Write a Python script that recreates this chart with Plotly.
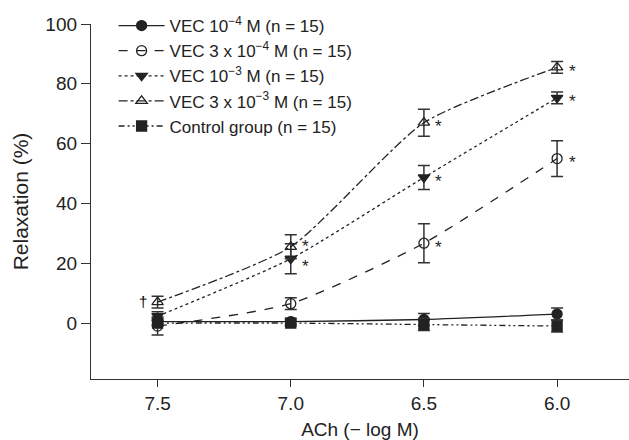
import plotly.graph_objects as go

x_vals = [7.5, 7.0, 6.5, 6.0]

vec_1e4 = [0.5, 0.5, 1.2, 3.0]
vec_1e4_err = [1.0, 1.0, 2.0, 2.0]

vec_3e4 = [-1.0, 6.5, 26.7, 55.0]
vec_3e4_err = [3.0, 2.0, 6.5, 6.0]

vec_1e3 = [2.3, 21.5, 48.7, 75.3]
vec_1e3_err = [1.5, 5.0, 4.0, 2.0]

vec_3e3 = [7.0, 25.5, 67.0, 85.5]
vec_3e3_err = [2.0, 4.0, 4.5, 2.0]

control = [0.0, 0.0, -0.5, -1.0]
control_err = [1.0, 1.0, 2.0, 2.0]

names = [
    "VEC 10<sup>−4</sup> M (n = 15)",
    "VEC 3 x 10<sup>−4</sup> M (n = 15)",
    "VEC 10<sup>−3</sup> M (n = 15)",
    "VEC 3 x 10<sup>−3</sup> M (n = 15)",
    "Control group (n = 15)",
]

series = [
    (vec_1e4, vec_1e4_err, "solid", "circle"),
    (vec_3e4, vec_3e4_err, "dash", "circle-open"),
    (vec_1e3, vec_1e3_err, "dot", "triangle-down"),
    (vec_3e3, vec_3e3_err, "dashdot", "triangle-up-open"),
    (control, control_err, "6px,3px,2px,3px,2px,3px", "square"),
]

FONT = "Liberation Sans, Arial"
INK = "#222"

fig = go.Figure()
for name, (vals, errs, dash, sym) in zip(names, series):
    fig.add_trace(go.Scatter(
        x=x_vals, y=vals, name=name, mode="lines+markers",
        line=dict(color=INK, width=1.3, dash=dash, shape="spline", smoothing=0.6),
        marker=dict(symbol=sym, size=10, color=INK, line=dict(color=INK, width=1.3)),
        error_y=dict(type="data", array=errs, visible=True, color="#333",
                     thickness=1.5, width=6),
    ))

stars = [
    (6.0, vec_3e3[3], -4), (6.0, vec_1e3[3], -4), (6.0, vec_3e4[3], -4),
    (6.5, vec_3e3[2], -4), (6.5, vec_1e3[2], -4), (6.5, vec_3e4[2], -4),
    (7.0, vec_3e3[1], 0), (7.0, vec_1e3[1], -8),
]
for sx, sy, ys in stars:
    fig.add_annotation(x=sx, y=sy, text="*", showarrow=False, xshift=15, yshift=ys,
                       font=dict(size=17, color=INK, family=FONT))
fig.add_annotation(x=7.5, y=vec_3e3[0], text="†", showarrow=False, xshift=-15, yshift=1,
                   font=dict(size=15, color="#000000", family=FONT))

fig.update_layout(
    width=629, height=440,
    margin=dict(l=91, r=0, t=24, b=61),
    paper_bgcolor="white", plot_bgcolor="white",
    font=dict(family=FONT, size=18, color=INK),
    showlegend=True,
    legend=dict(x=0.042, y=1.045, xanchor="left", yanchor="top", itemwidth=46,
                bgcolor="rgba(0,0,0,0)", font=dict(size=17, color=INK), tracegroupgap=0),
    xaxis=dict(range=[7.75, 5.73], tickvals=x_vals, ticktext=["7.5", "7.0", "6.5", "6.0"],
               showline=True, linecolor="#333", linewidth=1.3, ticks="outside",
               ticklen=7, tickcolor="#333", showgrid=False, zeroline=False,
               tickfont=dict(size=19),
               title=dict(text="ACh (− log M)", standoff=13, font=dict(size=19))),
    yaxis=dict(range=[-18.7, 100], tickvals=[0, 20, 40, 60, 80, 100],
               showline=True, linecolor="#333", linewidth=1.3, ticks="outside",
               ticklen=9, tickcolor="#333", showgrid=False, zeroline=False,
               tickfont=dict(size=19),
               title=dict(text="Relaxation (%)", standoff=10, font=dict(size=21))),
)

fig.write_html("out.html")
